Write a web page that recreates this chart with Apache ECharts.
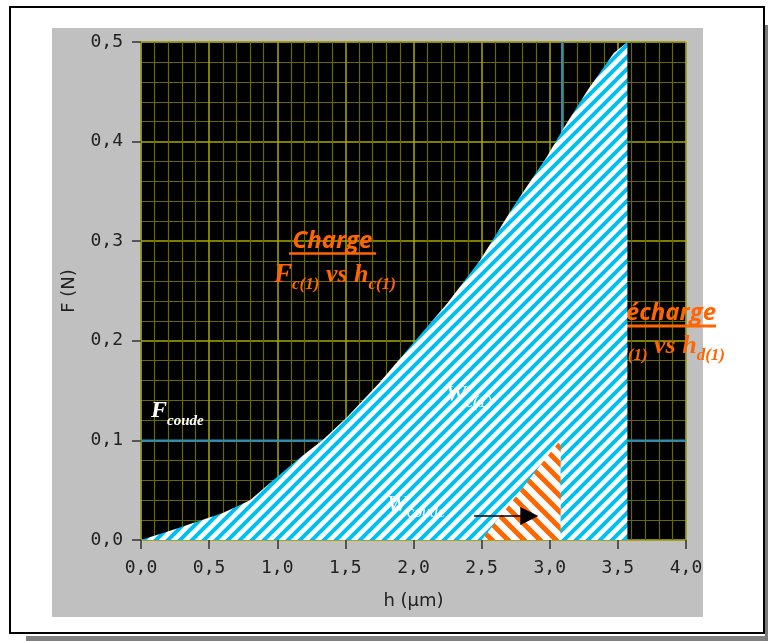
<!DOCTYPE html>
<html>
<head>
<meta charset="utf-8">
<style>
html,body{margin:0;padding:0;background:#fff;}
#c{width:768px;height:641px;}
</style>
<script src="https://cdn.jsdelivr.net/npm/echarts@6/dist/echarts.min.js"></script>
</head>
<body>
<div id="c"></div>
<script>
// ---- data ----
const hLoad = [0, 0.23, 0.6, 0.8, 0.97, 1.17, 1.33, 1.51, 1.75, 2.0, 2.25, 2.49, 2.73, 2.98, 3.09, 3.28, 3.47, 3.57];
const fLoad = [0, 0.010, 0.027, 0.040, 0.060, 0.083, 0.100, 0.123, 0.158, 0.198, 0.238, 0.281, 0.334, 0.385, 0.411, 0.452, 0.489, 0.500];
const hCoude = [2.5, 3.08];
const fCoude = [0, 0.101];
const fCoudeLevel = 0.1;
const hVertical = 3.09;
const arrowH = [2.445, 2.85];
const arrowF = [0.024, 0.024];
const xTickValues = [0, 0.5, 1, 1.5, 2, 2.5, 3, 3.5, 4];
const xTickLabels = ['0,0', '0,5', '1,0', '1,5', '2,0', '2,5', '3,0', '3,5', '4,0'];
const yTickValues = [0, 0.1, 0.2, 0.3, 0.4, 0.5];
const yTickLabels = ['0,0', '0,1', '0,2', '0,3', '0,4', '0,5'];

function lookup(vals, labels, v) {
  const i = vals.findIndex(t => Math.abs(t - v) < 1e-6);
  return i >= 0 ? labels[i] : '';
}
function stripes(size, color, width, dir) {
  const c = document.createElement('canvas');
  c.width = size; c.height = size;
  const ctx = c.getContext('2d');
  ctx.fillStyle = '#ffffff';
  ctx.fillRect(0, 0, size, size);
  ctx.strokeStyle = color;
  ctx.lineWidth = width;
  ctx.lineCap = 'square';
  for (let k = -2; k <= 3; k++) {
    const cc = k * size;
    ctx.beginPath();
    if (dir > 0) { ctx.moveTo(cc + 2 * size, -2 * size); ctx.lineTo(cc - 2 * size, 2 * size); }
    else { ctx.moveTo(cc - 2 * size, -2 * size); ctx.lineTo(cc + 2 * size, 2 * size); }
    ctx.stroke();
  }
  return { image: c, repeat: 'repeat' };
}

const chart = echarts.init(document.getElementById('c'), null, { renderer: 'canvas' });
const ORANGE = '#ff6600';
const serif = '"Liberation Serif", "DejaVu Serif", serif';

const option = {
  animation: false,
  backgroundColor: '#ffffff',
  grid: {
    left: 141, top: 42, width: 545, height: 498,
    show: true, backgroundColor: '#000000', borderColor: '#555555', borderWidth: 1
  },
  xAxis: {
    type: 'value', min: 0, max: 4, interval: 0.5, offset: 4,
    name: 'h (µm)', nameLocation: 'middle', nameGap: 48,
    nameTextStyle: { fontFamily: 'DejaVu Sans', fontSize: 18, color: '#222' },
    axisLine: { show: false },
    axisTick: { show: true, length: 9, lineStyle: { color: '#333', width: 1.5 } },
    axisLabel: { fontFamily: 'DejaVu Sans Mono', fontSize: 18, color: '#222', margin: 15,
      formatter: v => lookup(xTickValues, xTickLabels, v) },
    splitLine: { show: true, lineStyle: { color: '#a8a800', width: 1.5 } },
    minorTick: { show: false, splitNumber: 5 },
    minorSplitLine: { show: true, lineStyle: { color: '#686800', width: 1.2 } }
  },
  yAxis: {
    type: 'value', min: 0, max: 0.5, interval: 0.1, offset: 4,
    name: 'F (N)', nameLocation: 'middle', nameGap: 59, nameRotate: 90,
    nameTextStyle: { fontFamily: 'DejaVu Sans', fontSize: 18, color: '#222' },
    axisLine: { show: false },
    axisTick: { show: true, length: 9, lineStyle: { color: '#333', width: 1.5 } },
    axisLabel: { fontFamily: 'DejaVu Sans Mono', fontSize: 18, color: '#222', margin: 14,
      formatter: v => lookup(yTickValues, yTickLabels, v) },
    splitLine: { show: true, lineStyle: { color: '#a8a800', width: 1.5 } },
    minorTick: { show: false, splitNumber: 5 },
    minorSplitLine: { show: true, lineStyle: { color: '#686800', width: 1.2 } }
  },
  series: [
    {
      type: 'line', z: 1, silent: true, showSymbol: false, symbol: 'none',
      data: [[0, fCoudeLevel], [4, fCoudeLevel]],
      lineStyle: { color: '#1e8fd6', width: 2 }
    },
    {
      type: 'line', z: 1, silent: true, showSymbol: false, symbol: 'none',
      data: [[hVertical, 0], [hVertical, 0.5]],
      lineStyle: { color: '#1e8fd6', width: 2 }
    },
    {
      type: 'line', z: 2, silent: true, showSymbol: false, symbol: 'none',
      data: hLoad.map((h, i) => [h, fLoad[i]]),
      lineStyle: { width: 0, opacity: 0 },
      areaStyle: { color: stripes(12, '#00bff2', 4, 1), opacity: 1 }
    },
    {
      type: 'line', z: 3, silent: true, showSymbol: false, symbol: 'none',
      data: hCoude.map((h, i) => [h, fCoude[i]]),
      lineStyle: { width: 0, opacity: 0 },
      areaStyle: { color: stripes(16, ORANGE, 5, -1), opacity: 1 }
    },
    {
      type: 'lines', coordinateSystem: 'cartesian2d', z: 4, silent: true,
      symbol: ['none', 'triangle'], symbolSize: 18,
      lineStyle: { color: '#000', width: 1.5, opacity: 1 },
      data: [{ coords: arrowH.map((h, i) => [h, arrowF[i]]) }]
    }
  ],
  graphic: [
    { type: 'rect', z: -10, silent: true, shape: { x: 10, y: 7, width: 754, height: 626 },
      style: { fill: '#ffffff', stroke: '#000000', lineWidth: 2 } },
    { type: 'rect', z: -10, silent: true, shape: { x: 26, y: 636, width: 742, height: 5 },
      style: { fill: '#808080' } },
    { type: 'rect', z: -10, silent: true, shape: { x: 765, y: 25, width: 3, height: 616 },
      style: { fill: '#7a7a7a' } },
    { type: 'rect', z: -9, silent: true, shape: { x: 52, y: 28, width: 651, height: 589 },
      style: { fill: '#c0c0c0' } },
    // labels under the hatched area
    { type: 'text', z: 1, silent: true, x: 332.5, y: 241,
      style: { text: 'Charge', font: 'italic bold 24px "Open Sans"', fill: ORANGE, align: 'center', verticalAlign: 'middle' } },
    { type: 'line', z: 1, silent: true, shape: { x1: 289, y1: 253.5, x2: 376, y2: 253.5 },
      style: { stroke: ORANGE, lineWidth: 2.5 } },
    { type: 'text', z: 1, silent: true, x: 335, y: 275,
      style: { text: '{F|F}{s|c(1)}{m| vs h}{s|c(1)}', align: 'center', verticalAlign: 'middle',
        rich: {
          F: { font: 'italic bold 27px ' + serif, fill: ORANGE, lineHeight: 36 },
          m: { font: 'italic bold 26px ' + serif, fill: ORANGE, lineHeight: 36 },
          s: { font: 'italic bold 17px ' + serif, fill: ORANGE, verticalAlign: 'bottom' }
        } } },
    { type: 'text', z: 1, silent: true, x: 716, y: 313,
      style: { text: 'Décharge', font: 'italic bold 24px "Open Sans"', fill: ORANGE, align: 'right', verticalAlign: 'middle' } },
    { type: 'line', z: 1, silent: true, shape: { x1: 600, y1: 326, x2: 716, y2: 326 },
      style: { stroke: ORANGE, lineWidth: 3 } },
    { type: 'text', z: 1, silent: true, x: 725, y: 346,
      style: { text: '{F|F}{s|d(1)}{m| vs h}{s|d(1)}', align: 'right', verticalAlign: 'middle',
        rich: {
          F: { font: 'italic bold 27px ' + serif, fill: ORANGE, lineHeight: 36 },
          m: { font: 'italic bold 26px ' + serif, fill: ORANGE, lineHeight: 36 },
          s: { font: 'italic bold 17px ' + serif, fill: ORANGE, verticalAlign: 'bottom' }
        } } },
    { type: 'text', z: 1, silent: true, x: 151, y: 411,
      style: { text: '{F|F}{s|coude}', align: 'left', verticalAlign: 'middle',
        rich: {
          F: { font: 'italic bold 24px ' + serif, fill: '#ffffff', lineHeight: 36 },
          s: { font: 'italic bold 15px ' + serif, fill: '#ffffff', verticalAlign: 'bottom' }
        } } },
    // labels over the hatched area
    { type: 'text', z: 6, silent: true, x: 446, y: 395,
      style: { text: '{W|W}{s|c(1)}', align: 'left', verticalAlign: 'middle',
        rich: {
          W: { font: 'italic 24px ' + serif, fill: '#ffffff', lineHeight: 32 },
          s: { font: 'italic 16px ' + serif, fill: '#ffffff', verticalAlign: 'bottom' }
        } } },
    { type: 'text', z: 6, silent: true, x: 387, y: 505,
      style: { text: '{W|W}{s|coude}', align: 'left', verticalAlign: 'middle',
        rich: {
          W: { font: 'italic 24px ' + serif, fill: '#ffffff', lineHeight: 32 },
          s: { font: 'italic 16px ' + serif, fill: '#ffffff', verticalAlign: 'bottom' }
        } } }
  ]
};
chart.setOption(option);
</script>
</body>
</html>
